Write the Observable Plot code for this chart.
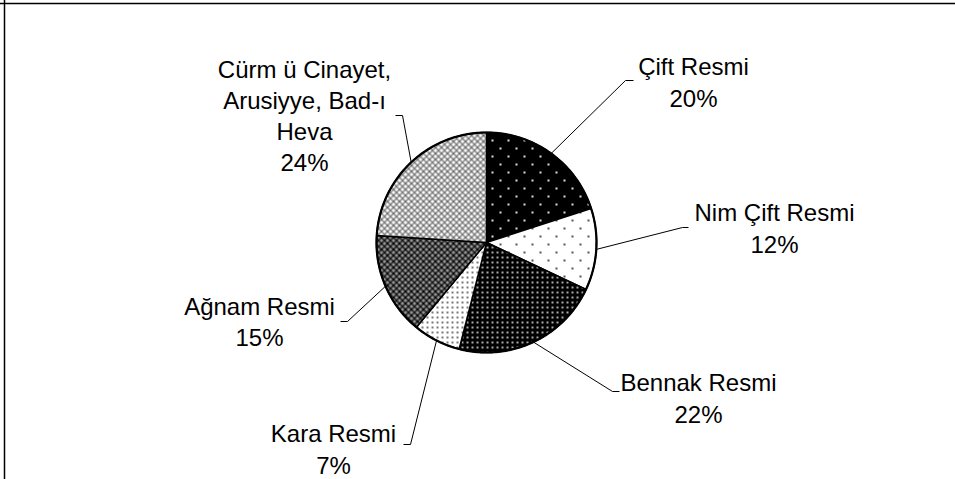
<!DOCTYPE html>
<html>
<head>
<meta charset="utf-8">
<script src="https://cdn.jsdelivr.net/npm/d3@7"></script>
<script src="https://cdn.jsdelivr.net/npm/@observablehq/plot@0.6"></script>
<style>
  html, body { margin: 0; padding: 0; background: #fff; overflow: hidden; }
</style>
</head>
<body>
<div id="chart"></div>
<script>
// ---- data ----
const categories = ["Çift Resmi", "Nim Çift Resmi", "Bennak Resmi", "Kara Resmi", "Ağnam Resmi", "Cürm ü Cinayet,\nArusiyye, Bad-ı\nHeva"];
const shares = [20, 12, 22, 7, 15, 24];
const percentLabels = ["20%", "12%", "22%", "7%", "15%", "24%"];

// ---- layout (pixels) ----
const W = 955, H = 479;
const cx = 486, cy = 242, R = 110;
const patternIds = ["p0", "p1", "p2", "p3", "p4", "p5"];
const labelCenters = [[693, 80.5], [774, 226.5], [698, 396.5], [333, 447.5], [259, 320], [304, 114]];
const leaderElbows = [[625, 80, 633], [682, 227, 688], [612, 391, 619], [410, 444, 403], [347, 321, 340], [402, 115, 395]];

const total = d3.sum(shares);
const pt = (a, r = R) => ({x: cx + r * Math.sin(a), y: cy - r * Math.cos(a)});

let acc = 0;
const slices = shares.map((v, i) => {
  const a0 = acc / total * 2 * Math.PI;
  acc += v;
  const a1 = acc / total * 2 * Math.PI;
  const n = Math.max(2, Math.ceil((a1 - a0) / (Math.PI / 180)));
  const pts = [{x: cx, y: cy}];
  for (let k = 0; k <= n; k++) pts.push(pt(a0 + (a1 - a0) * k / n));
  pts.push({x: cx, y: cy});
  const mid = (a0 + a1) / 2;
  return {i, name: categories[i], pts, mid};
});

const circlePts = d3.range(0, 361).map(d => pt(d * Math.PI / 180));

const leaders = slices.map(s => {
  const [ex, ey, tx] = leaderElbows[s.i];
  return [pt(s.mid), {x: ex, y: ey}, {x: tx, y: ey}];
});

const labelData = categories.map((c, i) => ({
  text: c + "\n" + percentLabels[i],
  x: labelCenters[i][0],
  y: labelCenters[i][1]
}));

const svg = Plot.plot({
  width: W,
  height: H,
  margin: 0,
  x: {domain: [0, W], range: [0, W], axis: null},
  y: {domain: [0, H], range: [0, H], axis: null},
  style: {background: "#fff"},
  marks: [
    Plot.ruleY([3], {stroke: "#000", strokeWidth: 1.5}),
    Plot.ruleX([4], {stroke: "#000", strokeWidth: 1.5}),
    ...slices.map(s => Plot.line(s.pts, {
      x: "x", y: "y",
      fill: `url(#${patternIds[s.i]})`,
      stroke: "#000", strokeWidth: 1.5, curve: "linear"
    })),
    Plot.line(circlePts, {x: "x", y: "y", stroke: "#000", strokeWidth: 2.2}),
    ...leaders.map(l => Plot.line(l, {x: "x", y: "y", stroke: "#000", strokeWidth: 1, strokeLinecap: "butt"})),
    Plot.text(labelData, {
      x: "x", y: "y", text: "text",
      fontSize: 24, lineHeight: 1.3,
      fontFamily: "'Liberation Sans', Arial, Helvetica, sans-serif",
      fill: "#000", textAnchor: "middle"
    })
  ]
});

d3.select(svg).insert("defs", ":first-child").html(`
  <pattern id="p0" width="16" height="16" patternUnits="userSpaceOnUse">
    <rect width="16" height="16" fill="#000"/>
    <rect x="3" y="3" width="2" height="2" fill="#ddd"/>
    <rect x="11" y="11" width="2" height="2" fill="#ddd"/>
  </pattern>
  <pattern id="p1" width="16" height="16" patternUnits="userSpaceOnUse">
    <rect width="16" height="16" fill="#fff"/>
    <rect x="3" y="3" width="2" height="2" fill="#555"/>
    <rect x="11" y="11" width="2" height="2" fill="#555"/>
  </pattern>
  <pattern id="p2" width="5" height="5" patternUnits="userSpaceOnUse">
    <rect width="5" height="5" fill="#000"/>
    <rect x="1" y="1" width="2" height="2" fill="#aaa"/>
  </pattern>
  <pattern id="p3" width="5" height="5" patternUnits="userSpaceOnUse">
    <rect width="5" height="5" fill="#fff"/>
    <rect x="1" y="1" width="2" height="2" fill="#777"/>
  </pattern>
  <pattern id="p4" width="6" height="6" patternUnits="userSpaceOnUse">
    <rect width="6" height="6" fill="#999"/>
    <path d="M0,0L6,6M6,0L0,6" stroke="#111" stroke-width="1.4"/>
    <rect x="2" y="2" width="2" height="2" fill="#000"/>
  </pattern>
  <pattern id="p5" width="6" height="6" patternUnits="userSpaceOnUse">
    <rect width="6" height="6" fill="#fff"/>
    <path d="M0,0L6,6M6,0L0,6" stroke="#777" stroke-width="1.3"/>
    <rect x="2.5" y="2.5" width="1" height="1" fill="#444"/>
  </pattern>
`);

document.getElementById("chart").appendChild(svg);
</script>
</body>
</html>
